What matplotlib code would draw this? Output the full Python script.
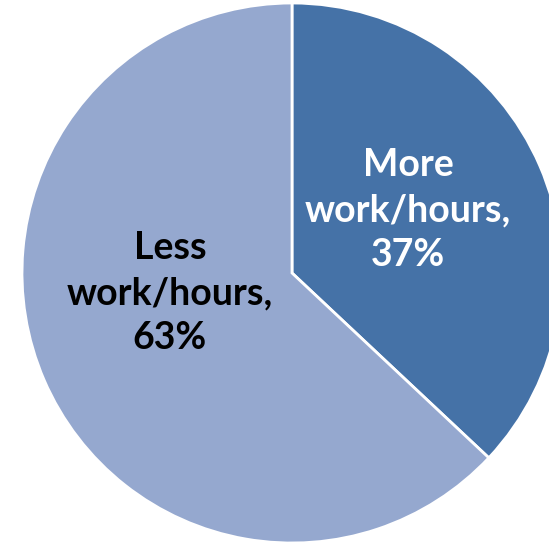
import matplotlib
matplotlib.use("Agg")
import matplotlib.pyplot as plt

categories = ["More\nwork/hours,", "Less\nwork/hours,"]
values = [37, 63]
colors = ["#4572A7", "#95A8CF"]
text_colors = ["white", "black"]
label_pos = [(408, 210), (170, 293)]  # pixel centres of labels

W, H = 549, 547
fig = plt.figure(figsize=(W / 100, H / 100), dpi=100)
ax = fig.add_axes([0, 0, 1, 1])
cx, cy, R = 292, 273, 270
wedges, _ = ax.pie(values, colors=colors, startangle=90, counterclock=False,
                   radius=1.0, center=(0, 0), labels=None,
                   wedgeprops=dict(edgecolor="white", linewidth=2.0))
ax.set_xlim(-cx / R, (W - cx) / R)
ax.set_ylim(-(H - cy) / R, cy / R)
ax.set_aspect("auto")
ax.axis("off")

for cat, v, tc, (px, py) in zip(categories, values, text_colors, label_pos):
    ax.text(px / W, 1 - py / H, f"{cat}\n{v}%", transform=ax.transAxes,
            ha="center", va="center", color=tc, fontsize=27, fontweight="bold",
            family=["Lato", "DejaVu Sans"], linespacing=1.4)

fig.savefig("out.png", dpi=100)
